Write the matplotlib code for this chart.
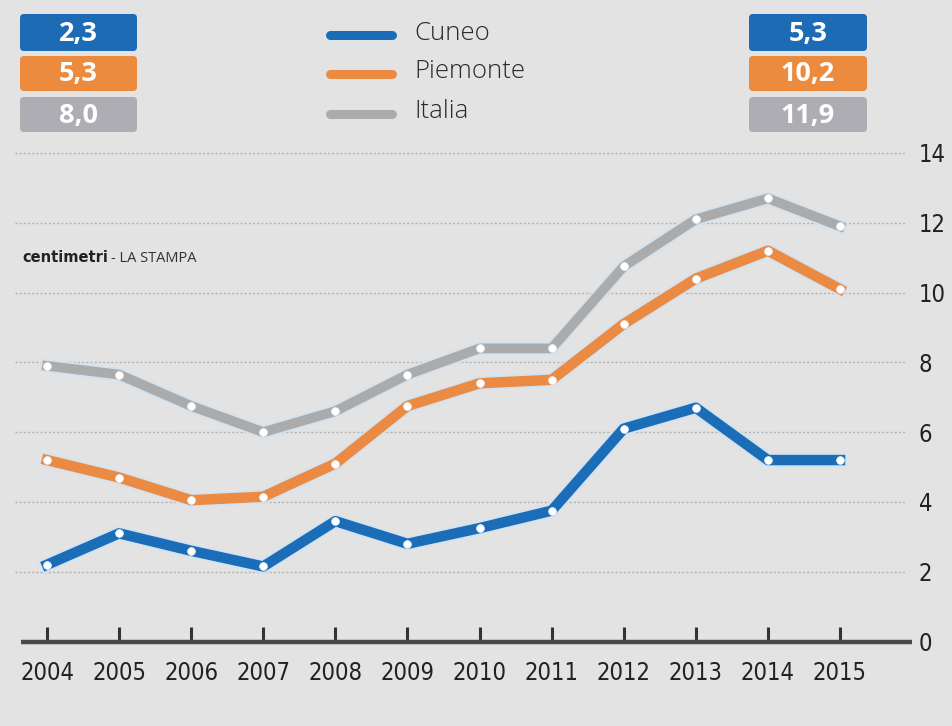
import matplotlib
matplotlib.use("Agg")
import matplotlib.pyplot as plt
import matplotlib.patheffects as pe
from matplotlib.patches import FancyBboxPatch
from matplotlib.lines import Line2D

# ---- data ----
years = [2004, 2005, 2006, 2007, 2008, 2009, 2010, 2011, 2012, 2013, 2014, 2015]
cuneo = [2.2, 3.1, 2.6, 2.15, 3.45, 2.8, 3.25, 3.75, 6.1, 6.7, 5.2, 5.2]
piemonte = [5.2, 4.7, 4.05, 4.15, 5.1, 6.75, 7.4, 7.5, 9.1, 10.4, 11.2, 10.1]
italia = [7.9, 7.65, 6.75, 6.0, 6.6, 7.65, 8.4, 8.4, 10.75, 12.1, 12.7, 11.9]
series_names = ["Cuneo", "Piemonte", "Italia"]
left_labels = ["2,3", "5,3", "8,0"]
right_labels = ["5,3", "10,2", "11,9"]
yticks = [0, 2, 4, 6, 8, 10, 12, 14]

line_colors = ["#1b6db8", "#eb8a43", "#ababab"]
box_colors = ["#1c6bb4", "#ec8a3e", "#adadb3"]
BG = "#e3e3e3"

W, H = 953, 726
fig = plt.figure(figsize=(W / 100, H / 100), dpi=100, facecolor=BG)

# main axes (pixel layout)
x_left, x_right = 15, 905
y_bot, y_top = 641.5, 153
ax = fig.add_axes([x_left / W, 1 - y_bot / H, (x_right - x_left) / W, (y_bot - y_top) / H])
ax.set_facecolor("none")
px_per_year = (840 - 47) / 11
ax.set_xlim(2004 - (47 - x_left) / px_per_year, 2015 + (x_right - 840) / px_per_year)
ax.set_ylim(0, 14)
for s in ax.spines.values():
    s.set_visible(False)

# gridlines
for v in yticks[1:]:
    ax.axhline(v, color="#b3b3b3", lw=1.0, ls=(0, (1.5, 1.5)), zorder=1, clip_on=False)
ax.plot([2004 - (47 - 21) / px_per_year, 2015 + (912 - 840) / px_per_year], [0, 0],
        color="#4a4a4a", lw=3.2, solid_capstyle="butt", zorder=2, clip_on=False)

ax.set_yticks(yticks)
ax.yaxis.tick_right()
ax.tick_params(axis="y", length=0, pad=10, labelsize=17, labelcolor="#222222")
ax.set_xticks(years)
ax.set_xticklabels([str(y) for y in years])
ax.tick_params(axis="x", direction="in", length=11, width=2.2, color="#333333",
               pad=14, labelsize=17, labelcolor="#222222")
for lab in ax.get_xticklabels() + ax.get_yticklabels():
    lab.set_family(["DejaVu Sans"])
    lab.set_stretch("condensed")

halo = "#d3e2ef"
data = [italia, piemonte, cuneo]
cols = [line_colors[2], line_colors[1], line_colors[0]]
lws = [7, 7.5, 7.5]
for vals, c, lw, z in zip(data, cols, lws, [3, 4, 5]):
    ax.plot(years, vals, color=c, lw=lw, zorder=z, solid_joinstyle="round",
            path_effects=[pe.Stroke(linewidth=lw + 2.5, foreground=halo), pe.Normal()],
            clip_on=False)
    ax.plot(years, vals, ls="none", marker="o", markersize=5.5, markerfacecolor="white",
            markeredgecolor="#f4f7fa", markeredgewidth=0.6, zorder=z + 0.5, clip_on=False)

# overlay axes for header elements (pixel coordinates)
ov = fig.add_axes([0, 0, 1, 1])
ov.set_xlim(0, W)
ov.set_ylim(H, 0)
ov.axis("off")
ov.set_zorder(-1)

def boxes(x0, x1, labels):
    tops = [14, 56, 97]
    bots = [51, 91, 132]
    for t, b, lab, c in zip(tops, bots, labels, box_colors):
        p = FancyBboxPatch((x0, t), x1 - x0, b - t, boxstyle="round,pad=0,rounding_size=4",
                           fc=c, ec="none")
        ov.add_patch(p)
        ov.text((x0 + x1) / 2, (t + b) / 2 + 1, lab, color="white", fontsize=19.5,
                fontweight="bold", ha="center", va="center", family=["Open Sans", "DejaVu Sans"])

boxes(20, 137, left_labels)
boxes(749, 867, right_labels)

legend_y = [35, 74, 114]
for name, c, yy in zip(series_names, line_colors, legend_y):
    ov.add_line(Line2D([330, 392], [yy, yy], color=c, lw=6.5, solid_capstyle="round"))
    ov.text(414, yy - 2, name, fontsize=18.5, color="#2a2a2a", ha="left", va="center",
            family=["Open Sans", "DejaVu Sans"], fontweight="light")

ov.text(22, 258, "centimetri", fontsize=10.5, fontweight="bold", color="#222222",
        ha="left", va="center", family=["DejaVu Sans"])
ov.text(111, 258, "- LA STAMPA", fontsize=10.5, color="#333333", ha="left", va="center",
        family=["Open Sans", "DejaVu Sans"])

fig.savefig("out.png", dpi=100, facecolor=BG)
